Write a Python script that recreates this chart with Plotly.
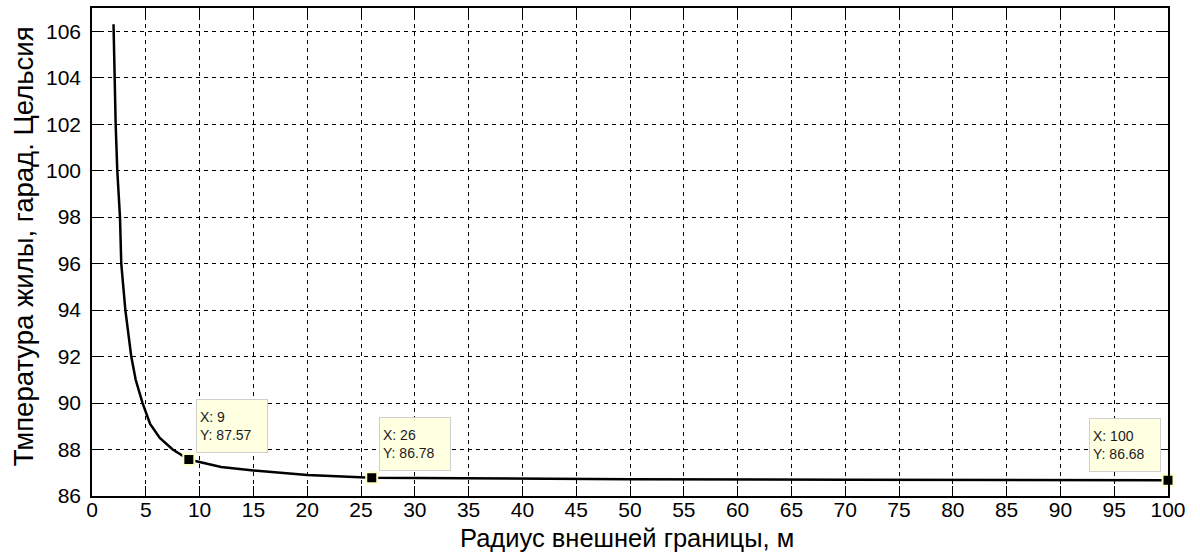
import plotly.graph_objects as go

# Conductor temperature vs. outer boundary radius
radius = [2.0, 2.07, 2.2, 2.35, 2.6, 2.72, 3.1, 3.65, 4.06, 4.7, 5.4, 6.3,
          7.5, 9.0, 9.7, 12.0, 15.0, 20.0, 26.0, 30.0, 38.0, 50.0, 70.0, 100.0]
temperature = [106.3, 104.0, 102.0, 100.0, 98.0, 96.0, 94.0, 92.0, 91.0, 90.0,
               89.1, 88.5, 88.0, 87.57, 87.5, 87.25, 87.1, 86.9, 86.78, 86.77,
               86.75, 86.72, 86.7, 86.68]

# Data tips
tip_x = [9, 26, 100]
tip_y = [87.57, 86.78, 86.68]

x_ticks = list(range(0, 101, 5))
y_ticks = list(range(86, 107, 2))

x_title = "Радиус внешней границы, м"
y_title = "Тмпература жилы, гарад. Цельсия"

font = "Arial, Liberation Sans, sans-serif"

fig = go.Figure()
fig.add_trace(go.Scatter(
    x=radius, y=temperature, mode="lines",
    line=dict(color="black", width=2.5),
    hoverinfo="skip", showlegend=False,
))
fig.add_trace(go.Scatter(
    x=tip_x, y=tip_y, mode="markers",
    marker=dict(symbol="square", size=11, color="black",
                line=dict(color="#FFFFC8", width=2)),
    cliponaxis=False, showlegend=False,
))

for i, (tx, ty) in enumerate(zip(tip_x, tip_y)):
    last = i == len(tip_x) - 1
    fig.add_annotation(
        x=tx, y=ty, xref="x", yref="y",
        text=f"X: {tx}<br>Y: {ty:.2f}",
        showarrow=False, align="left", valign="middle",
        xanchor="right" if last else "left", yanchor="bottom",
        xshift=-7 if last else 7, yshift=8 if last else 7,
        width=64, height=46, borderpad=3,
        bgcolor="#FFFFE1", bordercolor="#CFCFCF", borderwidth=1,
        font=dict(family=font, size=14, color="#1A1A1A"),
    )

# Axis titles placed as paper-anchored text
fig.add_annotation(
    x=0.497, y=-0.087, xref="paper", yref="paper", text=x_title,
    showarrow=False, xanchor="center", yanchor="middle",
    font=dict(family=font, size=25.5, color="black"),
)
fig.add_annotation(
    x=-0.064, y=0.512, xref="paper", yref="paper", text=y_title,
    showarrow=False, xanchor="center", yanchor="middle", textangle=-90,
    font=dict(family=font, size=27.5, color="black"),
)

axis_common = dict(
    showline=True, linecolor="black", linewidth=1.5, mirror="ticks",
    ticks="inside", ticklen=10, tickcolor="black", tickwidth=1,
    showgrid=True, gridcolor="black", gridwidth=1, griddash="4px,4px",
    zeroline=False,
    tickfont=dict(family=font, size=21, color="black"),
)

fig.update_xaxes(range=[0, 100], tickvals=x_ticks, ticklabelstandoff=-6,
                 **axis_common)
fig.update_yaxes(range=[86, 107], tickvals=y_ticks, ticklabelstandoff=5,
                 **axis_common)

fig.update_layout(
    width=1200, height=557,
    margin=dict(l=92, r=32, t=6, b=61),
    paper_bgcolor="white", plot_bgcolor="white",
)

fig.write_html("out.html")
